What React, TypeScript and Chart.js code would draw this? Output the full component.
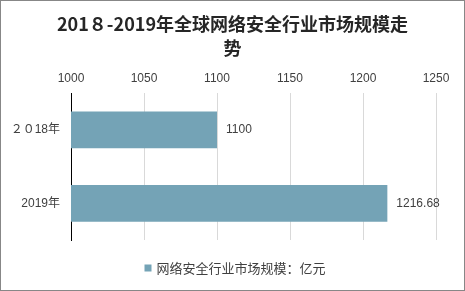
import React, { useEffect, useRef } from "react";
import { Chart, registerables } from "chart.js";

Chart.register(...registerables);

const titleLines = ["201８-2019年全球网络安全行业市场规模走", "势"];
const categories = ["２０18年", "2019年"];
const seriesName = "网络安全行业市场规模：亿元";
const seriesValues = [1100, 1216.68];
const axisMin = 1000;
const axisMax = 1250;
const axisStep = 50;

const BAR_COLOR = "#74A3B6";
const TEXT_COLOR = "#404040";
const LATIN_FONT = '"Liberation Sans", "Noto Sans CJK SC", sans-serif';
const CJK_FONT = '"Noto Sans CJK SC", "Liberation Sans", sans-serif';

const valueLabelPlugin = {
  id: "valueLabels",
  afterDatasetsDraw(chart: any) {
    const ctx = chart.ctx;
    ctx.save();
    ctx.font = `12px ${LATIN_FONT}`;
    ctx.fillStyle = TEXT_COLOR;
    ctx.textAlign = "left";
    ctx.textBaseline = "middle";
    chart.data.datasets.forEach((ds: any, di: number) => {
      const meta = chart.getDatasetMeta(di);
      meta.data.forEach((bar: any, i: number) => {
        ctx.fillText(String(ds.data[i]), bar.x + 9, bar.y);
      });
    });
    ctx.restore();
  },
};

const centerTitlePlugin = {
  id: "centerTitle",
  afterLayout(chart: any) {
    const t = chart.titleBlock;
    if (t) {
      t.left = 0;
      t.right = chart.width;
      t.width = chart.width;
    }
  },
};

const customLegendPlugin = {
  id: "customLegend",
  afterDraw(chart: any) {
    const ctx = chart.ctx;
    const ds = chart.data.datasets[0];
    ctx.save();
    ctx.font = `13px ${CJK_FONT}`;
    const text = ds.label;
    const tw = ctx.measureText(text).width;
    const box = 7;
    const gap = 5;
    const total = box + gap + tw;
    const x0 = chart.width / 2 + 2.5 - total / 2;
    const yc = chart.chartArea.bottom + 28;
    ctx.fillStyle = ds.backgroundColor;
    ctx.fillRect(x0, yc - box / 2, box, box);
    ctx.fillStyle = TEXT_COLOR;
    ctx.textAlign = "left";
    ctx.textBaseline = "middle";
    ctx.fillText(text, x0 + box + gap, yc);
    ctx.restore();
  },
};

export default function App() {
  const canvasRef = useRef<HTMLCanvasElement | null>(null);

  useEffect(() => {
    if (!canvasRef.current) return;
    const chart = new Chart(canvasRef.current, {
      type: "bar",
      data: {
        labels: categories,
        datasets: [
          {
            label: seriesName,
            data: seriesValues,
            backgroundColor: BAR_COLOR,
            borderWidth: 0,
            categoryPercentage: 0.5,
            barPercentage: 1,
          },
        ],
      },
      options: {
        indexAxis: "y",
        responsive: false,
        animation: false,
        devicePixelRatio: 1,
        layout: { padding: { left: 0, right: 28, top: 0, bottom: 50 } },
        plugins: {
          legend: { display: false },
          tooltip: { enabled: false },
          title: {
            display: true,
            text: titleLines,
            color: "#262626",
            font: { family: CJK_FONT, size: 18, weight: "bold", lineHeight: 24 / 18 },
            padding: { top: 11, bottom: 11 },
          },
        },
        scales: {
          x: {
            position: "top",
            min: axisMin,
            max: axisMax,
            ticks: {
              stepSize: axisStep,
              color: TEXT_COLOR,
              font: { family: LATIN_FONT, size: 12 },
              padding: 7,
              callback: (v: any) => String(v),
            },
            grid: { color: "#d9d9d9", drawTicks: false },
            border: { display: false },
            afterFit: (scale: any) => {
              scale.height = 22;
            },
          },
          y: {
            ticks: {
              color: TEXT_COLOR,
              font: { family: LATIN_FONT, size: 12 },
              padding: 11,
            },
            grid: { display: false, drawTicks: false },
            border: { display: true, color: "#000000", width: 1 },
            afterFit: (scale: any) => {
              scale.width = 70;
            },
          },
        },
      },
      plugins: [valueLabelPlugin, centerTitlePlugin, customLegendPlugin],
    } as any);
    return () => chart.destroy();
  }, []);

  return (
    <div
      style={{
        position: "absolute",
        left: 0,
        top: 0,
        width: 465,
        height: 291,
        boxSizing: "border-box",
        border: "1px solid #878787",
        background: "#ffffff",
      }}
    >
      <canvas ref={canvasRef} width={463} height={289} style={{ display: "block" }} />
    </div>
  );
}
